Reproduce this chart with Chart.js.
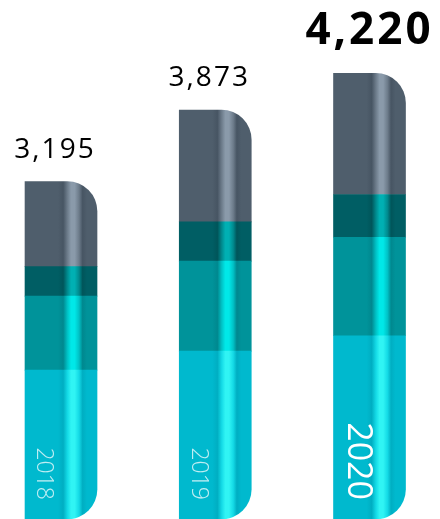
<!DOCTYPE html>
<html>
<head>
<meta charset="utf-8">
<script src="https://cdn.jsdelivr.net/npm/chart.js@4/dist/chart.umd.min.js"></script>
<style>
html,body{margin:0;padding:0;background:#fff;}
#wrap{width:440px;height:519px;position:relative;}
</style>
</head>
<body>
<div id="wrap"><canvas id="c"></canvas></div>
<script>
// ---- data ----
const years = ['2018', '2019', '2020'];
const cyanValues = [1410, 1590, 1735];
const tealValues = [700, 852, 933];
const darkTealValues = [280, 372, 405];
const grayValues = [805, 1059, 1147];

// ---- styling ----
const BAR_W = 72;
const palettes = [
  {base:'#00B9CE', dark:'#00AEC2', mid:'#14DAE6', hi:'#30F4F4'},
  {base:'#00939A', dark:'#00888F', mid:'#00C2C6', hi:'#00E8E8'},
  {base:'#005E64', dark:'#00555A', mid:'#008A8E', hi:'#00B0B3'},
  {base:'#4F5E6C', dark:'#475563', mid:'#6D7C8B', hi:'#8A9AAA'}
];
function shine(p){
  return function(ctx){
    const chart = ctx.chart;
    const xs = chart.scales && chart.scales.x;
    if (!xs || !chart.chartArea || !ctx.parsed) return p.base;
    const cx = xs.getPixelForValue(ctx.parsed.x);
    const g = chart.ctx.createLinearGradient(cx - BAR_W/2, 0, cx + BAR_W/2, 0);
    g.addColorStop(0, p.base);
    g.addColorStop(0.46, p.base);
    g.addColorStop(0.53, p.dark);
    g.addColorStop(0.59, p.mid);
    g.addColorStop(0.64, p.hi);
    g.addColorStop(0.69, p.hi);
    g.addColorStop(0.75, p.mid);
    g.addColorStop(0.80, p.dark);
    g.addColorStop(0.86, p.base);
    g.addColorStop(1, p.base);
    return g;
  };
}
const R = 30;
const noR = {topLeft:0, topRight:0, bottomLeft:0, bottomRight:0};

const labelPlugin = {
  id: 'labels',
  afterDatasetsDraw(chart){
    const c = chart.ctx;
    const n = chart.data.labels.length;
    const topMeta = chart.getDatasetMeta(chart.data.datasets.length - 1);
    const botMeta = chart.getDatasetMeta(0);
    for (let i = 0; i < n; i++){
      const last = i === n - 1;
      let total = 0;
      chart.data.datasets.forEach(d => total += d.data[i]);
      const top = topMeta.data[i];
      const bot = botMeta.data[i];
      // total label
      c.save();
      c.fillStyle = '#000';
      c.textAlign = 'center';
      c.textBaseline = 'alphabetic';
      if (last){
        c.font = 'bold 44px "Open Sans", "Noto Sans", sans-serif';
        c.letterSpacing = '3px';
        c.fillText(total.toLocaleString('en-US'), top.x, top.y - 29);
      } else {
        c.font = '28px "Open Sans", "Noto Sans", sans-serif';
        c.letterSpacing = '2px';
        c.fillText(total.toLocaleString('en-US'), top.x - 6, top.y - 24);
      }
      c.restore();
      // year label, rotated
      c.save();
      const lx = last ? bot.x - 12 : bot.x - 17;
      c.translate(lx, bot.base - 19);
      c.rotate(Math.PI/2);
      c.textAlign = 'right';
      c.textBaseline = 'middle';
      if (last){
        c.font = '500 34px "Open Sans", "Noto Sans", sans-serif';
        c.fillStyle = '#ffffff';
      } else {
        c.font = '300 23px "Open Sans", "Noto Sans", sans-serif';
        c.fillStyle = 'rgba(255,255,255,0.75)';
      }
      c.fillText(chart.data.labels[i], 0, 0);
      c.restore();
    }
  }
};

new Chart(document.getElementById('c'), {
  type: 'bar',
  data: {
    labels: years,
    datasets: [
      {data: cyanValues, backgroundColor: shine(palettes[0]), borderRadius: {topLeft:0, topRight:0, bottomLeft:0, bottomRight:R}},
      {data: tealValues, backgroundColor: shine(palettes[1]), borderRadius: noR},
      {data: darkTealValues, backgroundColor: shine(palettes[2]), borderRadius: noR},
      {data: grayValues, backgroundColor: shine(palettes[3]), borderRadius: {topLeft:0, topRight:R, bottomLeft:0, bottomRight:0}}
    ]
  },
  options: {
    responsive: true,
    maintainAspectRatio: false,
    animation: false,
    layout: {padding: 0},
    datasets: {bar: {barThickness: BAR_W, borderWidth: 0, borderSkipped: false}},
    plugins: {legend: {display: false}, tooltip: {enabled: false}},
    scales: {
      x: {type: 'linear', stacked: true, display: false, offset: false, min: 2017.6045, max: 2020.457},
      y: {stacked: true, display: false, min: 0, max: 4915}
    }
  },
  plugins: [labelPlugin]
});
</script>
</body>
</html>
